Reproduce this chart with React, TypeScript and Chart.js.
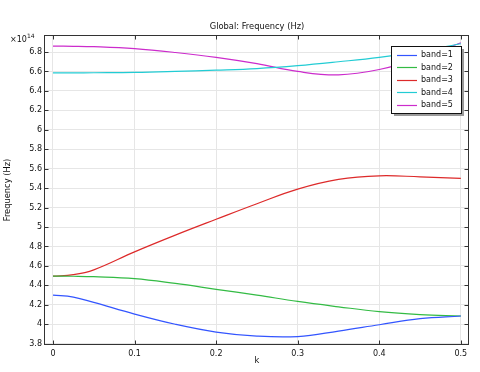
import { useEffect, useRef } from 'react';
import { Chart, registerables } from 'chart.js';

Chart.register(...registerables);

const kValues = [0, 0.025, 0.05, 0.1, 0.15, 0.2, 0.25, 0.3, 0.35, 0.4, 0.45, 0.5];
const band1 = [4.3, 4.28, 4.225, 4.105, 4.0, 3.92, 3.878, 3.874, 3.93, 3.995, 4.058, 4.085];
const band2 = [4.495, 4.494, 4.49, 4.47, 4.42, 4.36, 4.3, 4.235, 4.18, 4.13, 4.1, 4.085];
const band3 = [4.495, 4.51, 4.56, 4.745, 4.917, 5.08, 5.24, 5.39, 5.49, 5.527, 5.516, 5.5];
const band4 = [6.585, 6.586, 6.587, 6.59, 6.6, 6.613, 6.63, 6.66, 6.7, 6.745, 6.805, 6.885];
const band5 = [6.86, 6.859, 6.855, 6.834, 6.795, 6.745, 6.68, 6.6, 6.565, 6.62, 6.74, 6.895];

const seriesNames = ['band=1', 'band=2', 'band=3', 'band=4', 'band=5'];
const seriesValues = [band1, band2, band3, band4, band5];
const seriesColors = ['#3355ff', '#33bb44', '#dd2a2a', '#22ccd4', '#cc2ccc'];

const xTicks = [0, 0.1, 0.2, 0.3, 0.4, 0.5];
const yTicks = [3.8, 4, 4.2, 4.4, 4.6, 4.8, 5, 5.2, 5.4, 5.6, 5.8, 6, 6.2, 6.4, 6.6, 6.8];

const FONT = 'DejaVu Sans';
const TEXT = '#111';

const overlay = {
  id: 'overlay',
  afterDatasetsDraw(chart: any) {
    const { ctx, chartArea: a, scales } = chart;
    const xs = scales.x;
    const ys = scales.y;
    ctx.save();
    const L = Math.round(a.left) - 0.5;
    const R = Math.round(a.right) - 0.5;
    const T = Math.round(a.top) + 0.5;
    const B = Math.round(a.bottom) - 0.5;
    ctx.strokeStyle = '#333';
    ctx.lineWidth = 1;
    ctx.strokeRect(L, T, R - L, B - T);
    ctx.beginPath();
    xTicks.forEach((v) => {
      const px = Math.round(xs.getPixelForValue(v)) + 0.5;
      ctx.moveTo(px, B);
      ctx.lineTo(px, B - 4);
      ctx.moveTo(px, T);
      ctx.lineTo(px, T + 4);
    });
    yTicks.forEach((v) => {
      const py = Math.round(ys.getPixelForValue(v)) + 0.5;
      ctx.moveTo(L, py);
      ctx.lineTo(L + 4, py);
      ctx.moveTo(R, py);
      ctx.lineTo(R - 4, py);
    });
    ctx.stroke();

    // exponent
    ctx.fillStyle = TEXT;
    ctx.textBaseline = 'alphabetic';
    ctx.textAlign = 'left';
    ctx.font = `8px "${FONT}"`;
    ctx.fillText('×10', 10, 42);
    ctx.font = `6px "${FONT}"`;
    ctx.fillText('14', 27, 38);

    // legend
    const lx = 391;
    const ly = 46;
    const lw = 70;
    const lh = 67;
    ctx.fillStyle = '#9a9a9a';
    ctx.fillRect(lx + 3, ly + 3, lw, lh);
    ctx.fillStyle = '#fff';
    ctx.fillRect(lx, ly, lw, lh);
    ctx.strokeStyle = '#111';
    ctx.strokeRect(lx + 0.5, ly + 0.5, lw, lh);
    ctx.font = `8px "${FONT}"`;
    ctx.textBaseline = 'middle';
    chart.data.datasets.forEach((ds: any, i: number) => {
      const yy = ly + 8.5 + i * 12.6;
      ctx.strokeStyle = ds.borderColor;
      ctx.lineWidth = 1.2;
      ctx.beginPath();
      ctx.moveTo(lx + 6, Math.round(yy) + 0.5);
      ctx.lineTo(lx + 26, Math.round(yy) + 0.5);
      ctx.stroke();
      ctx.fillStyle = TEXT;
      ctx.fillText(ds.label, lx + 30, yy + 0.5);
    });
    ctx.restore();
  },
};

export default function App() {
  const ref = useRef<HTMLCanvasElement | null>(null);
  useEffect(() => {
    if (!ref.current) return;
    const chart = new Chart(ref.current, {
      type: 'line',
      data: {
        datasets: seriesNames.map((name, i) => ({
          label: name,
          data: kValues.map((k, j) => ({ x: k, y: seriesValues[i][j] })),
          borderColor: seriesColors[i],
          backgroundColor: seriesColors[i],
          borderWidth: 1.2,
          pointRadius: 0,
          tension: 0.4,
          fill: false,
        })),
      },
      options: {
        responsive: false,
        animation: false,
        layout: { padding: { left: 0, right: 11, top: 0, bottom: 0 } },
        plugins: {
          legend: { display: false },
          tooltip: { enabled: false },
          title: {
            display: true,
            text: 'Global: Frequency (Hz)',
            fullSize: false,
            color: TEXT,
            font: { family: FONT, size: 8.3, weight: 'normal' },
            padding: { top: 22, bottom: 3.04 },
          },
        },
        scales: {
          x: {
            type: 'linear',
            min: -0.0098,
            max: 0.51,
            afterBuildTicks: (s: any) => {
              s.ticks = xTicks.map((v) => ({ value: v }));
            },
            afterFit: (s: any) => {
              s.height = 27;
            },
            grid: { color: '#e6e6e6', drawTicks: false },
            border: { display: false },
            ticks: {
              padding: 4,
              color: TEXT,
              font: { family: FONT, size: 8 },
              maxRotation: 0,
              callback: (v: any) => String(Math.round(Number(v) * 10) / 10),
            },
            title: {
              display: true,
              text: 'k',
              color: TEXT,
              font: { family: FONT, size: 8.3 },
              padding: { top: 0, bottom: 6 },
            },
          },
          y: {
            type: 'linear',
            min: 3.787,
            max: 6.975,
            afterBuildTicks: (s: any) => {
              s.ticks = yTicks.map((v) => ({ value: v }));
            },
            afterFit: (s: any) => {
              s.width = 45;
            },
            grid: { color: '#e6e6e6', drawTicks: false },
            border: { display: false },
            ticks: {
              padding: 3,
              color: TEXT,
              font: { family: FONT, size: 8 },
              callback: (v: any) => String(Math.round(Number(v) * 10) / 10),
            },
            title: {
              display: true,
              text: 'Frequency (Hz)',
              color: TEXT,
              font: { family: FONT, size: 8.3 },
              padding: { top: 3, bottom: 0 },
            },
          },
        },
      },
      plugins: [overlay],
    });
    return () => chart.destroy();
  }, []);
  return (
    <div style={{ position: 'absolute', left: 0, top: 0, width: 480, height: 372, background: '#fff' }}>
      <canvas ref={ref} width={480} height={372} />
    </div>
  );
}
